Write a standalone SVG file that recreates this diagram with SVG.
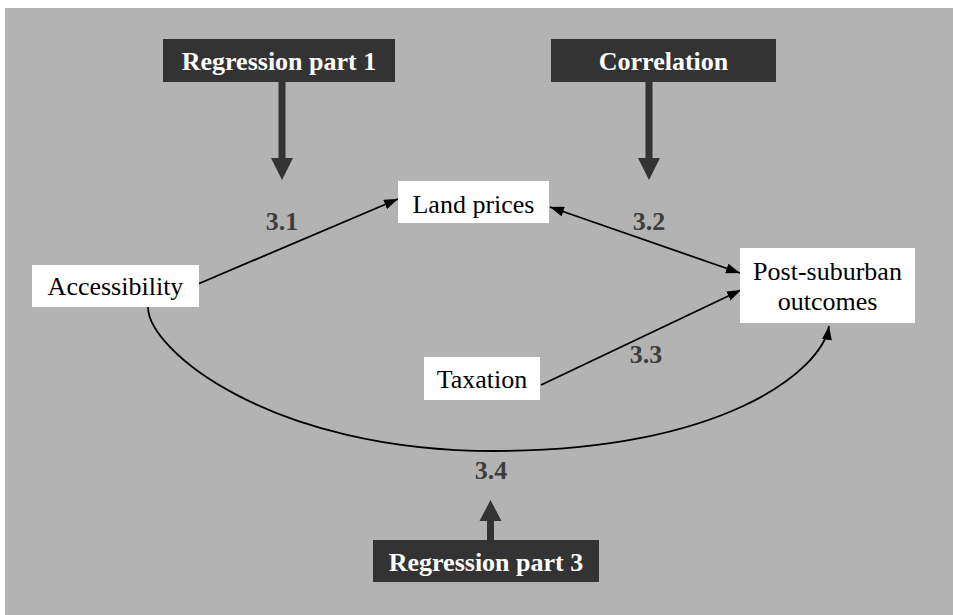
<svg xmlns="http://www.w3.org/2000/svg" width="953" height="615" viewBox="0 0 953 615">
<style>
.bg{fill:#b3b3b3}
.node rect{fill:#ffffff}
.node text{font-size:26px;fill:#000;text-anchor:middle}
.method rect{fill:#333333}
.method text{font-size:26px;font-weight:bold;fill:#ffffff;text-anchor:middle}
.lbl{font-size:26px;font-weight:bold;fill:#3d3d3d;text-anchor:middle}
.edge{fill:none;stroke:#000;stroke-width:1.8}
.fat{fill:#333333;stroke:none}
</style>
<defs>
<marker id="ah" viewBox="0 0 14 10" refX="14" refY="5" markerWidth="14" markerHeight="10" markerUnits="userSpaceOnUse" orient="auto-start-reverse">
<path d="M0,0 L14,5 L0,10 Z" fill="#000"/>
</marker>
</defs>
<rect class="bg" x="5" y="8" width="948" height="607"/>

<g id="connectors">
<path class="edge" d="M198,284 L398,199" marker-end="url(#ah)"/>
<path class="edge" d="M550,207 L740,273" marker-start="url(#ah)" marker-end="url(#ah)"/>
<path class="edge" d="M541,385 L741,290" marker-end="url(#ah)"/>
<path class="edge" d="M148,307 C148,350 270,451 495,451 C720,451 822,372 829,326" marker-end="url(#ah)"/>
<path class="fat" d="M278.5,82 H285.5 V158 H293 L282,180 L271,158 H278.5 Z"/>
<path class="fat" d="M645.5,82 H652.5 V158 H660 L649,180 L638,158 H645.5 Z"/>
<path class="fat" d="M487,540 H494 V521 H501.5 L490.5,500 L479.5,521 H487 Z"/>
</g>

<g font-family="Liberation Serif, DejaVu Serif, serif">
<g id="regression1" class="method">
<rect x="163" y="39" width="232" height="43"/>
<text x="279" y="70" font-family="Liberation Serif, DejaVu Serif, serif">Regression part 1</text>
</g>
<g id="correlation" class="method">
<rect x="551" y="39" width="225" height="43"/>
<text x="663.5" y="70" font-family="Liberation Serif, DejaVu Serif, serif">Correlation</text>
</g>
<g id="regression3" class="method">
<rect x="373" y="540" width="226" height="42"/>
<text x="486" y="571" font-family="Liberation Serif, DejaVu Serif, serif">Regression part 3</text>
</g>

<g id="landprices" class="node">
<rect x="398" y="181" width="151" height="42"/>
<text x="473.5" y="213" font-family="Liberation Serif, DejaVu Serif, serif">Land prices</text>
</g>
<g id="accessibility" class="node">
<rect x="32" y="265" width="167" height="42"/>
<text x="115.5" y="295" font-family="Liberation Serif, DejaVu Serif, serif">Accessibility</text>
</g>
<g id="postsuburban" class="node">
<rect x="740" y="248" width="175" height="75"/>
<text x="827.5" y="280" font-family="Liberation Serif, DejaVu Serif, serif">Post-suburban</text>
<text x="827.5" y="310" font-family="Liberation Serif, DejaVu Serif, serif">outcomes</text>
</g>
<g id="taxation" class="node">
<rect x="424" y="357" width="116" height="43"/>
<text x="482" y="388" font-family="Liberation Serif, DejaVu Serif, serif">Taxation</text>
</g>

<g id="labels">
<text class="lbl" x="282" y="230" font-family="Liberation Serif, DejaVu Serif, serif">3.1</text>
<text class="lbl" x="649" y="230" font-family="Liberation Serif, DejaVu Serif, serif">3.2</text>
<text class="lbl" x="646" y="363" font-family="Liberation Serif, DejaVu Serif, serif">3.3</text>
<text class="lbl" x="491" y="479" font-family="Liberation Serif, DejaVu Serif, serif">3.4</text>
</g>
</g>
</svg>
